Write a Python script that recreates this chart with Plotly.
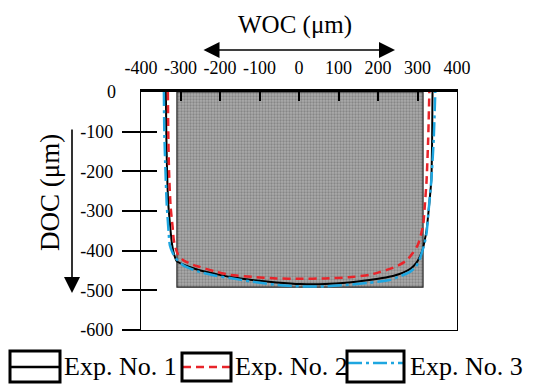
import plotly.graph_objects as go

# ---- data (µm) ----
exp1_x = [-337, -336, -334, -331, -326, -322, -316, -309, -293, -277, -242, -201, -175, -119, -58, 4,
          66, 127, 178, 211, 240, 262, 283, 297, 306, 313, 318, 323, 329, 335, 337, 338]
exp1_y = [0, -100, -200, -280, -340, -380, -410, -427, -435, -441, -452, -461, -466, -474, -480, -484,
          -484, -480, -474, -469, -463, -456, -445, -431, -415, -398, -375, -348, -290, -222, -120, 0]

exp2_x = [-332, -331, -329, -325, -320, -317, -312, -306, -293, -273, -251, -211, -175, -119, -58, 4,
          66, 127, 178, 204, 230, 254, 273, 288, 301, 310, 315, 319, 323, 327, 330]
exp2_y = [0, -100, -200, -290, -340, -373, -395, -410, -424, -434, -441, -453, -461, -466, -470, -471,
          -470, -467, -461, -454, -446, -436, -424, -406, -385, -355, -330, -280, -222, -120, 0]

exp3_x = [-342, -341, -338, -335, -331, -327, -320, -313, -293, -251, -211, -175, -119, -58, 4,
          66, 127, 178, 230, 255, 280, 296, 305, 311, 318, 323, 328, 335, 341, 345]
exp3_y = [0, -100, -200, -280, -340, -386, -405, -418, -437, -454, -463, -469, -478, -486, -490,
          -490, -486, -481, -474, -465, -454, -440, -423, -405, -381, -355, -300, -222, -120, 0]

rect_x = [-309, 314]      # electrode footprint (WOC)
rect_y = [0, -492]        # electrode footprint (DOC)

x_ticks = [-400, -300, -200, -100, 0, 100, 200, 300, 400]
y_ticks = [-600, -500, -400, -300, -200, -100]

series_names = ["Exp. No. 1", "Exp. No. 2", "Exp. No. 3"]

FONT = "Liberation Serif"
BLACK = "#000000"
RED = "#e8242a"
BLUE = "#1ea6e0"

# page body has an 8px margin: shift the whole drawing up/left by it
OFF = 8
W, H = 539 - OFF, 384 - OFF
L, T, R, B = 141 - OFF, 92 - OFF, 82, 54

fig = go.Figure()

# gray tool rectangle
fig.add_trace(go.Scatter(
    x=[rect_x[0], rect_x[1], rect_x[1], rect_x[0], rect_x[0]],
    y=[rect_y[0], rect_y[0], rect_y[1], rect_y[1], rect_y[0]],
    mode="lines", fill="toself",
    fillcolor="#9c9c9c",
    fillpattern=dict(shape=".", bgcolor="#ababab", fgcolor="#626262", size=3, solidity=0.45),
    line=dict(color="#222222", width=1.2),
    showlegend=False, hoverinfo="skip"))

fig.add_trace(go.Scatter(x=exp1_x, y=exp1_y, mode="lines", name=series_names[0],
                         line=dict(color=BLACK, width=2, shape="spline", smoothing=0.6), showlegend=False))
fig.add_trace(go.Scatter(x=exp2_x, y=exp2_y, mode="lines", name=series_names[1],
                         line=dict(color=RED, width=2.5, dash="8px,5px", shape="spline", smoothing=0.6),
                         showlegend=False))
fig.add_trace(go.Scatter(x=exp3_x, y=exp3_y, mode="lines", name=series_names[2],
                         line=dict(color=BLUE, width=2.5, dash="14px,4px,3px,4px", shape="spline", smoothing=0.6),
                         showlegend=False))
# dummy trace to activate overlay axes
fig.add_trace(go.Scatter(x=[None], y=[None], xaxis="x2", yaxis="y2", showlegend=False, hoverinfo="skip"))

# ---- manual legend (positions given in target-image pixels) ----
def px_x(p):
    return (p - 141) / 316.0

def px_y(p):
    return (330 - p) / 238.0

boxes = [
    dict(x0=10, x1=60, y0=351, y1=382, ly=367, color=BLACK, dash="solid", tx=62),
    dict(x0=182, x1=231, y0=353, y1=381, ly=367, color=RED, dash="8px,5px", tx=233),
    dict(x0=347, x1=404, y0=351, y1=382, ly=363, color=BLUE, dash="14px,4px,3px,4px", tx=408),
]
shapes = []
annotations = []
for b, name in zip(boxes, series_names):
    shapes.append(dict(type="line", xref="paper", yref="paper",
                       x0=px_x(b["x0"] + 1), x1=px_x(b["x1"] - 1), y0=px_y(b["ly"]), y1=px_y(b["ly"]),
                       line=dict(color=b["color"], width=2.5, dash=b["dash"])))
    shapes.append(dict(type="rect", xref="paper", yref="paper",
                       x0=px_x(b["x0"]), x1=px_x(b["x1"]), y0=px_y(b["y1"]), y1=px_y(b["y0"]),
                       line=dict(color=BLACK, width=3)))
    annotations.append(dict(xref="paper", yref="paper", x=px_x(b["tx"]), y=px_y(366),
                            xanchor="left", yanchor="middle", showarrow=False, text=name,
                            font=dict(family=FONT, size=26, color=BLACK)))

# titles and arrows
annotations.append(dict(xref="paper", yref="paper", x=px_x(295), y=px_y(25), xanchor="center",
                        yanchor="middle", showarrow=False, text="WOC (μm)",
                        font=dict(family=FONT, size=25, color=BLACK)))
annotations.append(dict(xref="paper", yref="paper", x=px_x(50), y=px_y(193), xanchor="center",
                        yanchor="middle", showarrow=False, text="DOC (μm)", textangle=-90,
                        font=dict(family=FONT, size=27, color=BLACK)))
annotations.append(dict(xref="paper", yref="paper", x=px_x(395), y=px_y(50), ax=-193, ay=0, text="",
                        showarrow=True, arrowhead=2, arrowside="end+start", arrowsize=2.0,
                        arrowwidth=1.6, arrowcolor=BLACK, standoff=0, startstandoff=0))
annotations.append(dict(xref="paper", yref="paper", x=px_x(72), y=px_y(293), ax=0, ay=-165, text="",
                        showarrow=True, arrowhead=2, arrowsize=2.0, arrowwidth=1.6,
                        arrowcolor=BLACK, standoff=0))

tickfont = dict(family=FONT, size=18, color=BLACK)

fig.update_layout(
    width=W, height=H, autosize=False,
    margin=dict(l=L, r=R, t=T, b=B),
    font=dict(family=FONT, color=BLACK),
    paper_bgcolor="white", plot_bgcolor="white",
    shapes=shapes, annotations=annotations,
    xaxis=dict(range=[-400, 400], side="top", tickvals=x_ticks, ticktext=[str(v) for v in x_ticks],
               ticks="inside", ticklen=9, tickwidth=1.5, tickcolor=BLACK,
               showline=True, linewidth=2.5, linecolor=BLACK, showgrid=False, zeroline=False,
               tickfont=tickfont, ticklabelstandoff=8, fixedrange=True),
    xaxis2=dict(range=[-400, 400], overlaying="x", side="bottom", anchor="y", showline=True,
                linewidth=1.2, linecolor=BLACK, ticks="", showticklabels=False,
                showgrid=False, zeroline=False),
    yaxis=dict(range=[-600, 0], tickvals=y_ticks, ticktext=[str(v) for v in y_ticks],
               ticks="outside", ticklen=18, tickwidth=1.5, tickcolor=BLACK,
               showline=True, linewidth=1.2, linecolor=BLACK, mirror=True,
               showgrid=False, zeroline=False, tickfont=tickfont, ticklabelstandoff=5),
    yaxis2=dict(range=[-600, 0], overlaying="y", side="left", anchor="x",
                tickvals=[-500, -400, -300, -200, -100, 0], ticktext=["", "", "", "", "", "0"],
                ticks="inside", ticklen=16, tickwidth=1.5, tickcolor=BLACK, showline=False,
                showgrid=False, zeroline=False, tickfont=tickfont, ticklabelstandoff=24),
)

fig.write_html("out.html")
